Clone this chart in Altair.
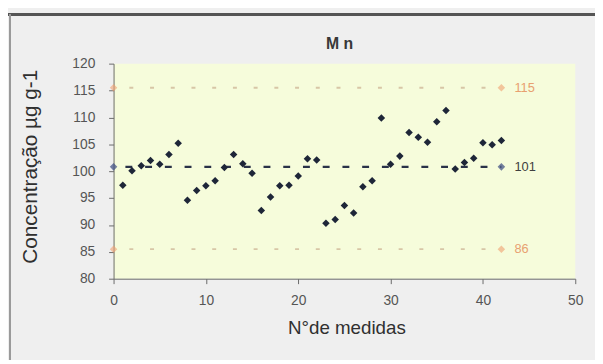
import altair as alt
import pandas as pd

# measurement number and Mn concentration (µg g-1)
medida = list(range(1, 43))
conc = [97.4, 100.1, 101.0, 102.0, 101.3, 103.1, 105.2, 94.6, 96.4, 97.3,
        98.2, 100.7, 103.1, 101.4, 99.6, 92.7, 95.2, 97.3, 97.4, 99.1,
        102.3, 102.1, 90.3, 91.0, 93.6, 92.2, 97.1, 98.2, 109.9, 101.3,
        102.8, 107.2, 106.3, 105.4, 109.2, 111.3, 100.4, 101.6, 102.4, 105.3,
        104.9, 105.7]

# reference lines: mean and control limits
line_names = ["media", "sup", "inf"]
line_values = [100.8, 115.5, 85.5]
line_labels = ["101", "115", "86"]
line_x_start = [0, 0, 0]
line_x_end = [42, 42, 42]
label_x = [43.2, 43.2, 43.2]

x_ticks = [0, 10, 20, 30, 40, 50]
y_ticks = [80, 85, 90, 95, 100, 105, 110, 115, 120]

chart_title = ["M n"]

pts = pd.DataFrame({"x": medida, "y": conc})

lines_rows = []
for n, v, a, b in zip(line_names, line_values, line_x_start, line_x_end):
    lines_rows.append({"name": n, "x": a, "y": v})
    lines_rows.append({"name": n, "x": b, "y": v})
lines_df = pd.DataFrame(lines_rows)
labels_df = pd.DataFrame({"name": line_names, "x": label_x, "y": line_values, "t": line_labels})
title_df = pd.DataFrame({"t": chart_title})

xs = alt.Scale(domain=[0, 50], nice=False, zero=False)
ys = alt.Scale(domain=[80, 120], nice=False, zero=False)

axis_common = dict(
    labelFont="Liberation Sans", labelFontSize=14, labelColor="#555555",
    domainColor="#6a6a6a", tickColor="#6a6a6a", tickSize=5, grid=False,
    titleFont="Liberation Sans", titleColor="#303030", titleFontWeight="normal",
    labelOverlap=False,
)

xaxis = alt.Axis(values=x_ticks, labelPadding=10, title="N°de medidas",
                 titleFontSize=19, titleX=236, titleY=50, titleBaseline="middle",
                 titleAlign="center", labelFlush=False, **axis_common)
yaxis = alt.Axis(values=y_ticks, labelPadding=14, title="Concentração µg g-1",
                 titleFontSize=21, titleX=-84, titleY=104, titleBaseline="middle",
                 titleAlign="center", titleAngle=-90, **axis_common)


def X():
    return alt.X("x:Q", scale=xs, axis=xaxis)


def Y():
    return alt.Y("y:Q", scale=ys, axis=yaxis)


points = alt.Chart(pts).mark_point(shape="diamond", filled=True, size=58,
                                   color="#1e2638", opacity=1).encode(x=X(), y=Y())

mean_df = lines_df[lines_df["name"] == "media"]
lim_df = lines_df[lines_df["name"] != "media"]

mean_line = alt.Chart(mean_df).mark_line(color="#2a3248", strokeWidth=2.4,
                                         strokeDash=[7, 13], strokeDashOffset=-12).encode(
    x=X(), y=Y())
mean_marks = alt.Chart(mean_df).mark_point(shape="diamond", filled=True, size=58,
                                           color="#3a4a80").encode(x=X(), y=Y())

lim_line = alt.Chart(lim_df).mark_line(color="#d0b898", strokeWidth=2, opacity=0.8,
                                       strokeDash=[4, 17], strokeDashOffset=-16).encode(
    x=X(), y=Y(), detail="name:N")
lim_marks = alt.Chart(lim_df).mark_point(shape="diamond", filled=True, size=58,
                                         color="#f0a070", opacity=0.6).encode(x=X(), y=Y())

labels = alt.Chart(labels_df).mark_text(align="left", baseline="middle", fontSize=13,
                                        font="Liberation Sans", dx=2).encode(
    x=X(), y=Y(),
    text=alt.Text("t:N"),
    color=alt.Color("name:N", scale=alt.Scale(domain=line_names,
                                              range=["#404040", "#e8a070", "#e8a070"]),
                    legend=None),
)

title_mark = alt.Chart(title_df).mark_text(font="Liberation Sans", fontSize=16,
                                           fontWeight="bold", color="#383838",
                                           align="center", baseline="middle").encode(
    x=alt.value(229), y=alt.value(-20), text=alt.Text("t:N"))

# decorative chart-area frame (Excel style)
frame_top = alt.Chart(pts).mark_rule(color="#555555", strokeWidth=2).encode(
    x=alt.value(-107), x2=alt.value(488), y=alt.value(-50))
frame_left = alt.Chart(pts).mark_rule(color="#9a9a9a", strokeWidth=1.5).encode(
    x=alt.value(-105), y=alt.value(-50), y2=alt.value(302))

chart = alt.layer(lim_line, lim_marks, mean_line, mean_marks,
                  points, labels, title_mark, frame_top, frame_left).properties(
    width=468, height=218,
    autosize=alt.AutoSizeParams(type="none"),
    padding={"left": 107, "top": 54, "right": 20, "bottom": 80},
).configure(background="#efefef").configure_view(fill="#f6fcdb", stroke=None)

chart.save("out.html", embed_options={"renderer": "svg", "actions": False})
